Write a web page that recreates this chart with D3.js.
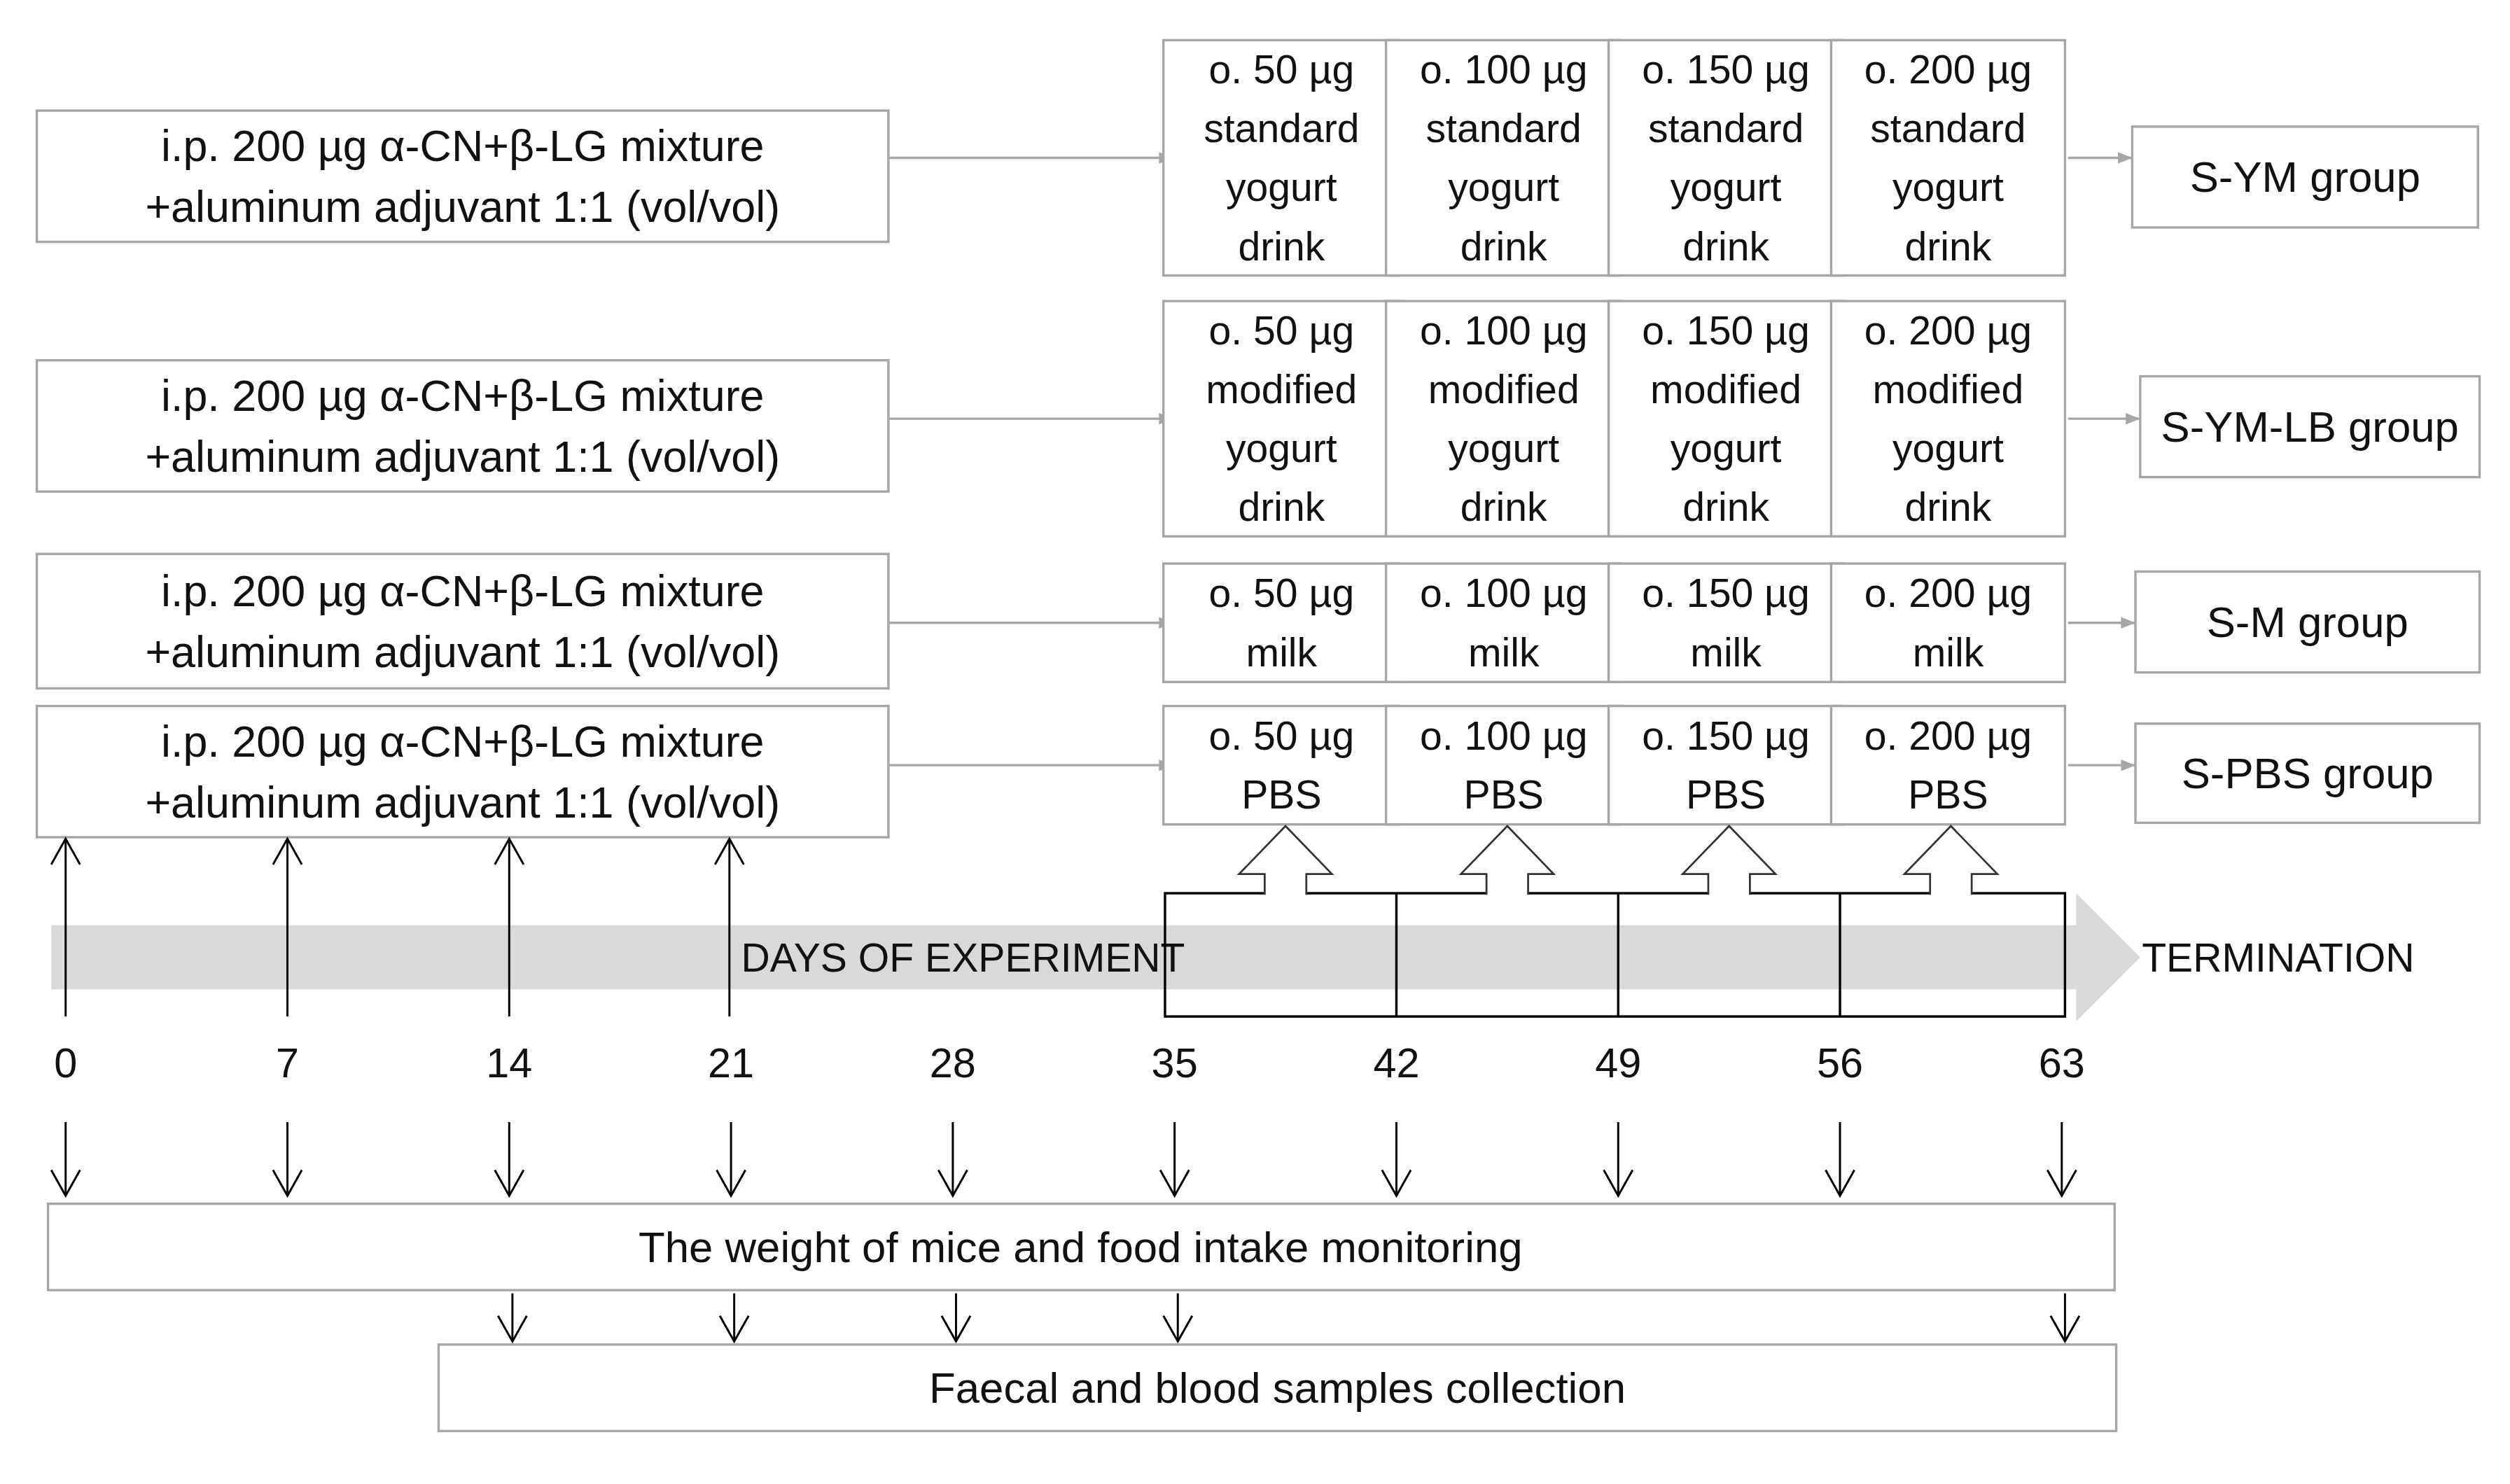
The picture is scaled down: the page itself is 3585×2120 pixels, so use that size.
<!DOCTYPE html>
<html><head><meta charset="utf-8">
<script src="https://cdn.jsdelivr.net/npm/d3@7"></script>
<style>body{margin:0;background:#fff}</style></head>
<body><svg id="c" width="3585" height="2120" viewBox="0 0 1568 927"></svg>
<script>
const days=[0,7,14,21,28,35,42,49,56,63];
const injectionDays=[0,7,14,21];
const sampleDays=[14,21,28,35,63];
const treatmentWeeks=[35,42,49,56];
const doses=["o. 50 µg","o. 100 µg","o. 150 µg","o. 200 µg"];
const groups=["S-YM group","S-YM-LB group","S-M group","S-PBS group"];
const products=[["standard","yogurt","drink"],["modified","yogurt","drink"],["milk"],["PBS"]];
const injectionText=["i.p. 200 µg α-CN+β-LG mixture","+aluminum adjuvant 1:1 (vol/vol)"];
const rows=[{y0:69,y1:151,g0:25,g1:172,gb:[1332,79,1548,142]},{y0:225,y1:307,g0:188,g1:335,gb:[1337,235,1549,298]},{y0:346,y1:430,g0:352,g1:426,gb:[1334,357,1549,420]},{y0:441,y1:523,g0:441,g1:515,gb:[1334,452,1549,514]}];

const svg=d3.select("#c");
const F="'Liberation Sans Narrow','Liberation Sans',sans-serif";
const x=d3.scaleLinear().domain([0,63]).range([41,1288]);
const gray="#a6a6a6";
svg.append("defs").append("marker").attr("id","ga").attr("viewBox","0 0 10 10").attr("refX",10).attr("refY",5)
 .attr("markerWidth",9).attr("markerHeight",9).attr("markerUnits","userSpaceOnUse").attr("orient","auto")
 .append("path").attr("d","M0,1L10,5L0,9Z").attr("fill",gray);
function txt(s,xx,yy,size,anchor="middle"){svg.append("text").attr("x",xx).attr("y",yy).attr("font-family",F).attr("font-size",size).attr("text-anchor",anchor).attr("dominant-baseline","central").attr("fill","#111").text(s);}
function box(a,b,c,d){svg.append("rect").attr("x",a).attr("y",b).attr("width",c-a).attr("height",d-b).attr("fill","#fff").attr("stroke",gray).attr("stroke-width",1.5);}

// timeline band
svg.append("path").attr("d","M32,578H1297V558L1337,598L1297,638V618H32Z").attr("fill","#d9d9d9");
txt("DAYS OF EXPERIMENT",463,598,25,"start");
txt("TERMINATION",1338,598,25,"start");

rows.forEach((r,i)=>{
 box(23,r.y0,555,r.y1);
 const cy=(r.y0+r.y1)/2;
 txt(injectionText[0],289,cy-19,27.5);txt(injectionText[1],289,cy+19,27.5);
 const ay=(r.g0+r.g1)/2;
 svg.append("line").attr("x1",555).attr("x2",733).attr("y1",ay).attr("y2",ay).attr("stroke",gray).attr("stroke-width",1.5).attr("marker-end","url(#ga)");
 treatmentWeeks.forEach((w,j)=>{
  const xa=x(w)-7+j*0.5, xb=x(w+7)+2;
  box(xa,r.g0,xb,r.g1);
  const lines=[doses[j]].concat(products[i]);
  const n=lines.length, step=(r.g1-r.g0)/n;
  lines.forEach((l,k)=>txt(l,(xa+xb)/2,r.g0+step*(k+0.5),25));
 });
 svg.append("line").attr("x1",1292).attr("x2",r.gb[0]).attr("y1",ay).attr("y2",ay).attr("stroke",gray).attr("stroke-width",1.5).attr("marker-end","url(#ga)");
 box(...r.gb);
 txt(groups[i],(r.gb[0]+r.gb[2])/2,(r.gb[1]+r.gb[3])/2,27);
});

// treatment frame with block arrows
const fx0=x(35)-6,fx1=x(63)+2;
svg.append("rect").attr("x",fx0).attr("y",558).attr("width",fx1-fx0).attr("height",77).attr("fill","none").attr("stroke","#000").attr("stroke-width",1.5);
treatmentWeeks.slice(1).forEach(w=>svg.append("line").attr("x1",x(w)).attr("x2",x(w)).attr("y1",558).attr("y2",635).attr("stroke","#000").attr("stroke-width",1.5));
treatmentWeeks.forEach(w=>{const c=x(w+3.5);
 svg.append("path").attr("d",`M${c-13},559V546H${c-29}L${c},516L${c+29},546H${c+13}V559`).attr("fill","#fff").attr("stroke","#333").attr("stroke-width",1.2);});

function arrow(xx,y1,y2){svg.append("line").attr("x1",xx).attr("x2",xx).attr("y1",y1).attr("y2",y2).attr("stroke","#000").attr("stroke-width",1.3);
 const d=y2>y1?-1:1; svg.append("path").attr("d",`M${xx-9},${y2+d*16}L${xx},${y2}L${xx+9},${y2+d*16}`).attr("fill","none").attr("stroke","#000").attr("stroke-width",1.3);}
injectionDays.forEach(d=>arrow(x(d)+(d===0?0:(d===21?-1:0)),635,524));
days.forEach(d=>{txt(String(d),x(d),664,26);arrow(x(d),701,747);});
box(30,752,1321,806);txt("The weight of mice and food intake monitoring",675,779,27);
sampleDays.forEach(d=>arrow(x(d)+2,808,838));
box(274,840,1322,894);txt("Faecal and blood samples collection",798,867,27);
</script></body></html>
